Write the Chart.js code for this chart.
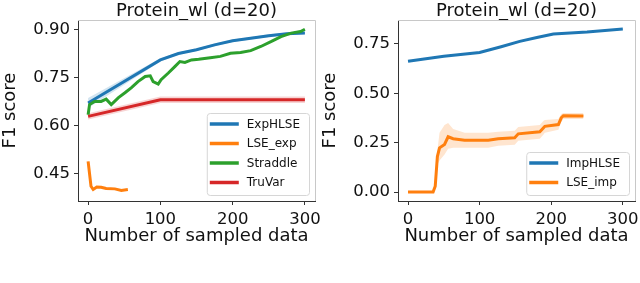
<!DOCTYPE html>
<html>
<head>
<meta charset="utf-8">
<script src="https://cdn.jsdelivr.net/npm/chart.js@4.4.0/dist/chart.umd.min.js"></script>
<style>
  html, body { margin: 0; padding: 0; background: #fff; }
  #wrap { position: relative; width: 640px; height: 283px; overflow: hidden; }
  canvas { position: absolute; top: 0; }
</style>
</head>
<body>
<div id="wrap">
  <canvas id="leftChart" width="320" height="283" style="left:0"></canvas>
  <canvas id="rightChart" width="320" height="283" style="left:320px"></canvas>
</div>
<script>
const titleText = "Protein_wl (d=20)";
const xLabel = "Number of sampled data";
const yLabel = "F1 score";
const xTicks = [0, 100, 200, 300];
const leftYTicks = [0.45, 0.60, 0.75, 0.90];
const rightYTicks = [0.00, 0.25, 0.50, 0.75];

// left panel
const expHlseX = [0, 100, 125, 150, 175, 200, 225, 250, 275, 300];
const expHlseY = [0.671, 0.806, 0.826, 0.838, 0.853, 0.866, 0.874, 0.882, 0.888, 0.890];
const expHlseLo = [0.655, 0.801, 0.822, 0.834, 0.849, 0.862, 0.870, 0.878, 0.884, 0.886];
const expHlseHi = [0.687, 0.811, 0.830, 0.842, 0.857, 0.870, 0.878, 0.886, 0.892, 0.894];

const lseExpX = [0, 4, 7, 12, 18, 25, 37, 46, 55];
const lseExpY = [0.488, 0.410, 0.400, 0.408, 0.407, 0.403, 0.402, 0.397, 0.400];

const straddleX = [0, 2, 9, 18, 25, 32, 42, 51, 60, 69, 79, 86, 90, 97, 101, 111, 120, 127, 134, 143, 153, 169, 183, 197, 211, 225, 239, 253, 267, 281, 294, 300];
const straddleY = [0.634, 0.666, 0.676, 0.676, 0.683, 0.666, 0.688, 0.703, 0.719, 0.738, 0.754, 0.756, 0.738, 0.730, 0.744, 0.765, 0.785, 0.801, 0.798, 0.806, 0.808, 0.813, 0.817, 0.827, 0.829, 0.835, 0.848, 0.863, 0.879, 0.890, 0.895, 0.902];

const truVarX = [0, 100, 300];
const truVarY = [0.629, 0.681, 0.681];
const truVarLo = [0.619, 0.671, 0.671];
const truVarHi = [0.639, 0.691, 0.691];

// right panel
const impHlseX = [0, 50, 100, 130, 156, 180, 203, 250, 300];
const impHlseY = [0.662, 0.687, 0.707, 0.736, 0.763, 0.782, 0.800, 0.810, 0.825];

const lseImpX = [0, 35, 38, 41, 44, 51, 56, 63, 79, 112, 126, 149, 154, 184, 189, 191, 210, 214, 217, 245];
const lseImpY = [0, 0, 0.03, 0.18, 0.224, 0.241, 0.280, 0.270, 0.263, 0.263, 0.270, 0.275, 0.295, 0.305, 0.325, 0.333, 0.342, 0.376, 0.387, 0.385];
const lseImpLo = [0, 0, 0.03, 0.14, 0.16, 0.19, 0.22, 0.225, 0.225, 0.225, 0.235, 0.24, 0.26, 0.27, 0.29, 0.30, 0.315, 0.355, 0.37, 0.37];
const lseImpHi = [0, 0, 0.03, 0.21, 0.30, 0.34, 0.35, 0.32, 0.30, 0.30, 0.305, 0.31, 0.33, 0.34, 0.36, 0.365, 0.37, 0.395, 0.40, 0.40];

const BLUE = "#1f77b4", ORANGE = "#ff7f0e", GREEN = "#2ca02c", RED = "#d62728";
const FONT = "DejaVu Sans";

function pts(xs, ys) {
  return xs.map((x, i) => ({ x: x, y: ys[i] }));
}

function line(label, xs, ys, color, order) {
  return {
    label: label, data: pts(xs, ys), borderColor: color, backgroundColor: color,
    borderWidth: 3, pointRadius: 0, tension: 0, fill: false, order: order
  };
}

// band = two datasets, the second filled down to the first
function band(xs, lo, hi, rgba) {
  return [
    { isBand: true, data: pts(xs, lo), borderWidth: 0, pointRadius: 0, fill: false, order: 20 },
    { isBand: true, data: pts(xs, hi), borderWidth: 0, pointRadius: 0, fill: "-1", backgroundColor: rgba, order: 20 }
  ];
}

const framePlugin = {
  id: "frame",
  afterDatasetsDraw(chart) {
    const a = chart.chartArea, ctx = chart.ctx;
    ctx.save();
    ctx.strokeStyle = "#c8c8c8";
    ctx.lineWidth = 1;
    ctx.beginPath();
    ctx.moveTo(a.left, a.top + 0.5);
    ctx.lineTo(a.right + 0.5, a.top + 0.5);
    ctx.lineTo(a.right + 0.5, a.bottom);
    ctx.stroke();
    ctx.restore();
  }
};

const boxLegend = {
  id: "boxLegend",
  afterDraw(chart) {
    const items = chart.data.datasets.filter(d => !d.isBand);
    const ctx = chart.ctx, a = chart.chartArea;
    ctx.save();
    ctx.font = "12px '" + FONT + "'";
    let maxW = 0;
    items.forEach(d => { maxW = Math.max(maxW, ctx.measureText(d.label).width); });
    const rowH = 19.5;
    const w = 40 + maxW + 9;
    const h = items.length * rowH + 4;
    const right = a.right - 6, bottom = a.bottom - 6;
    const left = right - w, top = bottom - h;
    ctx.beginPath();
    ctx.roundRect(left + 0.5, top + 0.5, w, h, 3);
    ctx.fillStyle = "rgba(255,255,255,0.85)";
    ctx.fill();
    ctx.strokeStyle = "#d6d6d6";
    ctx.lineWidth = 1;
    ctx.stroke();
    items.forEach((d, i) => {
      const y = top + 11 + i * rowH;
      ctx.strokeStyle = d.borderColor;
      ctx.lineWidth = 3.5;
      ctx.beginPath();
      ctx.moveTo(left + 3, y);
      ctx.lineTo(left + 32, y);
      ctx.stroke();
      ctx.fillStyle = "#111";
      ctx.textBaseline = "middle";
      ctx.textAlign = "left";
      ctx.fillText(d.label, left + 40, y + 0.5);
    });
    ctx.restore();
  }
};

function makeChart(canvasId, datasets, xMin, xMax, yMin, yMax, yTicks) {
  const ctx = document.getElementById(canvasId);
  return new Chart(ctx, {
    type: "line",
    data: { datasets: datasets },
    options: {
      responsive: false,
      maintainAspectRatio: false,
      animation: false,
      layout: { padding: { left: 0, right: 5, top: 0, bottom: 33 } },
      plugins: {
        legend: { display: false },
        tooltip: { enabled: false },
        title: { display: false }
      },
      scales: {
        x: {
          type: "linear", min: xMin, max: xMax,
          afterBuildTicks: ax => { ax.ticks = xTicks.map(v => ({ value: v })); },
          afterFit: ax => { ax.height = 49; ax.paddingLeft = 0; ax.paddingRight = 0; },
          grid: { drawOnChartArea: false, drawTicks: true, tickLength: 4, color: "#333" },
          border: { display: true, color: "#333", width: 1 },
          ticks: {
            color: "#111", padding: 5, maxRotation: 0, autoSkip: false,
            font: { family: FONT, size: 16.5 },
            callback: v => String(v)
          },
          title: {
            display: true, text: xLabel, color: "#111",
            font: { family: FONT, size: 18 }, padding: { top: 0, bottom: 3 }
          }
        },
        // top axis only carries the panel title, centred over the plot area
        xTop: {
          type: "linear", position: "top", min: xMin, max: xMax,
          afterFit: ax => { ax.height = 20; ax.paddingLeft = 0; ax.paddingRight = 0; },
          grid: { display: false },
          border: { display: false },
          ticks: { display: false },
          title: {
            display: true, text: titleText, color: "#111",
            font: { family: FONT, size: 18, lineHeight: 1 }, padding: { top: 2, bottom: 0 }
          }
        },
        y: {
          type: "linear", min: yMin, max: yMax,
          afterBuildTicks: ax => { ax.ticks = yTicks.map(v => ({ value: v })); },
          afterFit: ax => { ax.width = 78; ax.paddingTop = 0; ax.paddingBottom = 0; },
          grid: { drawOnChartArea: false, drawTicks: true, tickLength: 4, color: "#333" },
          border: { display: true, color: "#333", width: 1 },
          ticks: {
            color: "#111", padding: 4, autoSkip: false,
            font: { family: FONT, size: 16.5 },
            callback: v => Number(v).toFixed(2)
          },
          title: {
            display: true, text: yLabel, color: "#111",
            font: { family: FONT, size: 18 }, padding: { top: 0, bottom: 0 }
          }
        }
      }
    },
    plugins: [framePlugin, boxLegend]
  });
}

document.addEventListener("DOMContentLoaded", function () {
  const leftSets = [
    line("ExpHLSE", expHlseX, expHlseY, BLUE, 4),
    line("LSE_exp", lseExpX, lseExpY, ORANGE, 3),
    line("Straddle", straddleX, straddleY, GREEN, 2),
    line("TruVar", truVarX, truVarY, RED, 1)
  ].concat(band(expHlseX, expHlseLo, expHlseHi, "rgba(31,119,180,0.2)"))
   .concat(band(truVarX, truVarLo, truVarHi, "rgba(214,39,40,0.2)"));
  makeChart("leftChart", leftSets, -14, 314, 0.364, 0.931, leftYTicks);

  const rightSets = [
    line("ImpHLSE", impHlseX, impHlseY, BLUE, 2),
    line("LSE_imp", lseImpX, lseImpY, ORANGE, 1)
  ].concat(band(lseImpX, lseImpLo, lseImpHi, "rgba(255,127,14,0.2)"));
  makeChart("rightChart", rightSets, -14, 317, -0.045, 0.871, rightYTicks);
});
</script>
</body>
</html>
